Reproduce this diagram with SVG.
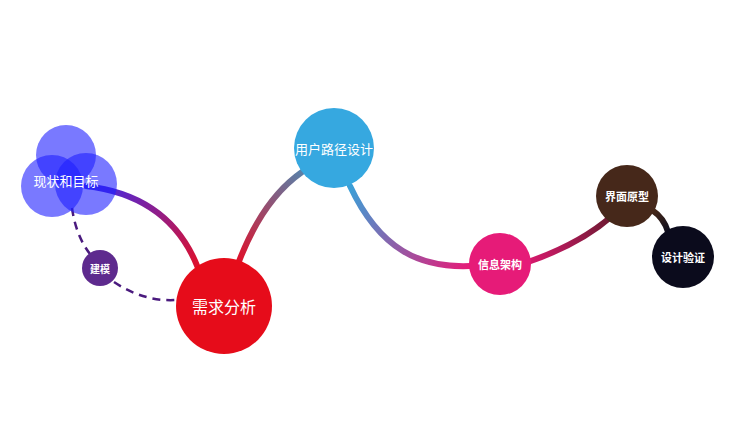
<svg xmlns="http://www.w3.org/2000/svg" width="750" height="435" viewBox="0 0 750 435">
<style>
.t{fill:#fff;font-family:"Noto Sans CJK SC",sans-serif;text-anchor:middle;dominant-baseline:central}
.c{fill:none;stroke-width:6;stroke-linecap:round}
.d{fill:none;stroke:#4a1a7e;stroke-width:2.5;stroke-dasharray:8 6}
</style>
<defs>
<linearGradient id="g1" gradientUnits="userSpaceOnUse" x1="90" y1="186" x2="198" y2="268"><stop offset="0" stop-color="#3a2cf0"/><stop offset="1" stop-color="#e0102a"/></linearGradient>
<linearGradient id="g2" gradientUnits="userSpaceOnUse" x1="238" y1="262" x2="302" y2="172"><stop offset="0" stop-color="#e0102a"/><stop offset="1" stop-color="#5a80a8"/></linearGradient>
<linearGradient id="g3" gradientUnits="userSpaceOnUse" x1="350" y1="186" x2="470" y2="266"><stop offset="0" stop-color="#3aa0d8"/><stop offset="1" stop-color="#e61b78"/></linearGradient>
<linearGradient id="g4" gradientUnits="userSpaceOnUse" x1="528" y1="262" x2="612" y2="216"><stop offset="0" stop-color="#d81a6e"/><stop offset="1" stop-color="#6a1a30"/></linearGradient>
<linearGradient id="g5" gradientUnits="userSpaceOnUse" x1="652" y1="210" x2="668" y2="232"><stop offset="0" stop-color="#4a2a18"/><stop offset="1" stop-color="#0d0d1e"/></linearGradient>
</defs>
<g id="connectors">
<path class="c" stroke="url(#g1)" d="M86 186 Q170 196 198 268"/>
<path class="c" stroke="url(#g2)" d="M238 264 Q262 200 302 172"/>
<path class="c" stroke="url(#g3)" d="M350 186 C380 250 420 268 470 266"/>
<path class="c" stroke="url(#g4)" d="M528 262 Q580 244 612 216"/>
<path class="c" stroke="url(#g5)" d="M652 210 Q664 218 668 232"/>
<path class="d" d="M72 208 Q76 236 90 254"/>
<path class="d" d="M114 282 Q144 302 176 300"/>
</g>
<g id="n-xianzhuang">
<circle cx="66" cy="155" r="30" fill="#2020ff" fill-opacity="0.6"/>
<circle cx="52" cy="186" r="31" fill="#2020ff" fill-opacity="0.6"/>
<circle cx="86" cy="184" r="31" fill="#2020ff" fill-opacity="0.6"/>
<text class="t" x="66" y="180" font-size="13">现状和目标</text>
</g>
<g id="n-jianmo"><circle cx="100" cy="268" r="18" fill="#5e2a8e"/><text class="t" x="100" y="268" font-size="10" font-weight="bold">建模</text></g>
<g id="n-xuqiu"><circle cx="224" cy="306" r="48" fill="#e60c1a"/><text class="t" x="224" y="306" font-size="16">需求分析</text></g>
<g id="n-yonghu"><circle cx="334" cy="148" r="40" fill="#36a8e0"/><text class="t" x="334" y="148" font-size="13">用户路径设计</text></g>
<g id="n-xinxi"><circle cx="500" cy="264" r="31" fill="#e61b78"/><text class="t" x="500" y="264" font-size="11" font-weight="bold">信息架构</text></g>
<g id="n-jiemian"><circle cx="627" cy="196" r="31" fill="#46281a"/><text class="t" x="627" y="196" font-size="11" font-weight="bold">界面原型</text></g>
<g id="n-yanzheng"><circle cx="683" cy="257" r="31" fill="#0b0b1c"/><text class="t" x="683" y="257" font-size="11" font-weight="bold">设计验证</text></g>
</svg>
